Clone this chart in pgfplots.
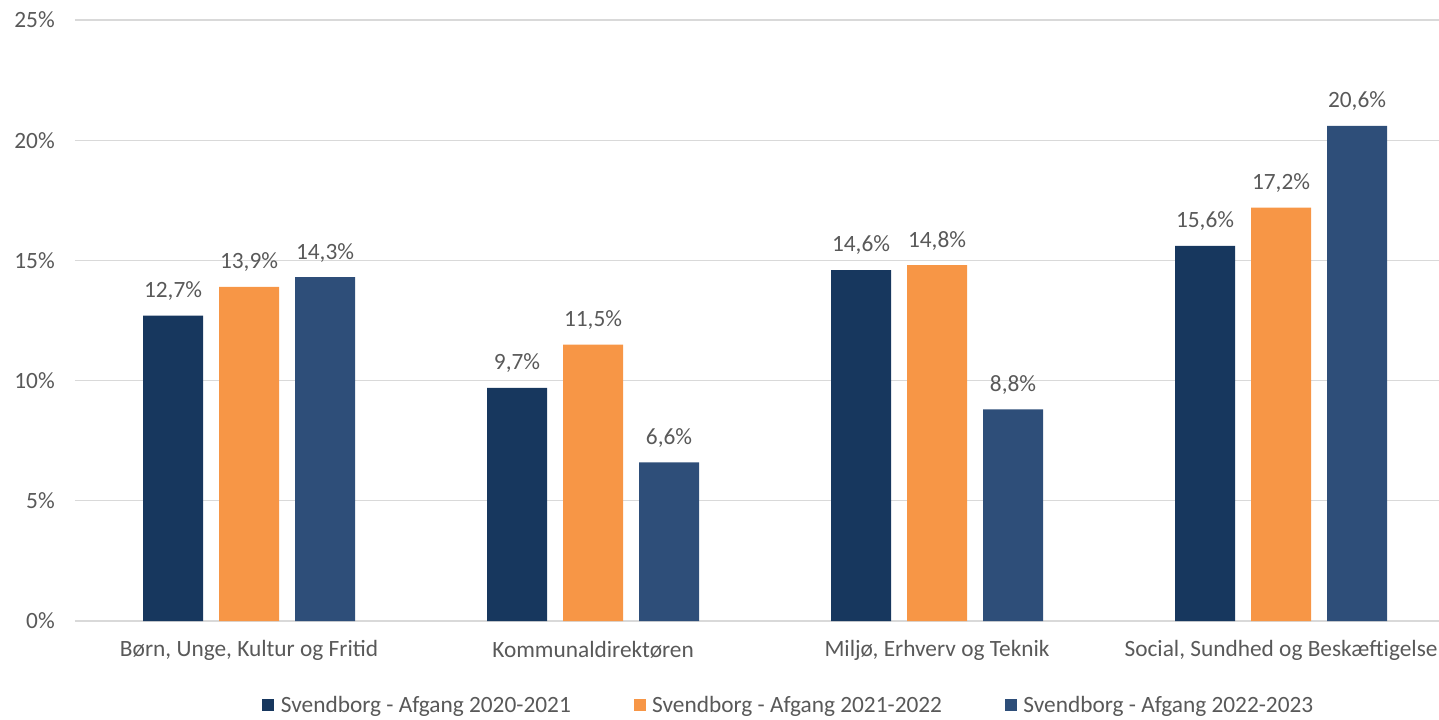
\documentclass[border=0pt]{standalone}
\usepackage{pgfplots}
\pgfplotsset{compat=1.18}
\usepackage{fontspec}
\setmainfont{Carlito}
\definecolor{c1}{HTML}{17375E}
\definecolor{c2}{HTML}{F79646}
\definecolor{c3}{HTML}{2E4E79}
\definecolor{txt}{HTML}{595959}
\definecolor{gridc}{HTML}{D9D9D9}
\begin{document}
\begin{tikzpicture}
\begin{axis}[
  at={(0pt,0pt)}, anchor=south west, scale only axis,
  width=1032pt, height=450.75pt,
  xmin=-0.506, xmax=3.494, ymin=0, ymax=25,
  ybar=12pt, bar width=45pt,
  axis line style={draw=none},
  major tick length=0pt,
  /pgf/number format/assume math mode=true,
  ytick={0,5,10,15,20,25},
  yticklabel={\pgfmathprintnumber{\tick}\%},
  ymajorgrids, grid style={gridc, line width=0.9pt},
  xtick={0,1,2,3},
  xticklabels={{Børn, Unge, Kultur og Fritid},{Kommunaldirektøren},{Miljø, Erhverv og Teknik},{Social, Sundhed og Beskæftigelse}},
  ticklabel style={font=\fontsize{17.5}{20}\selectfont, text=txt, inner sep=0pt},
  xticklabel style={anchor=center, yshift=-21.75pt},
  yticklabel style={anchor=east, xshift=-15pt},
  nodes near coords={\pgfmathprintnumber[fixed, precision=1, fixed zerofill, use comma, assume math mode=true]{\pgfplotspointmeta}\%},
  every node near coord/.append style={font=\fontsize{17.5}{20}\selectfont, text=txt, anchor=center, yshift=18.5pt, inner sep=0pt},
  legend style={at={(0.519,-0.14)}, anchor=center, draw=none, legend columns=3,
    font=\fontsize{17.5}{20}\selectfont, text=txt,
    /tikz/every odd column/.append style={column sep=3pt},
    /tikz/every even column/.append style={column sep=45pt}},
  legend image code/.code={\fill[#1] (0pt,-4.5pt) rectangle (9pt,4.5pt);},
]
\addplot[fill=c1, draw=none] coordinates {(0,12.7) (1,9.7) (2,14.6) (3,15.6)};
\addplot[fill=c2, draw=none] coordinates {(0,13.9) (1,11.5) (2,14.8) (3,17.2)};
\addplot[fill=c3, draw=none] coordinates {(0,14.3) (1,6.6) (2,8.8) (3,20.6)};
\legend{Svendborg - Afgang 2020-2021, Svendborg - Afgang 2021-2022, Svendborg - Afgang 2022-2023}
\end{axis}
\pgfresetboundingbox
\useasboundingbox (-56.25pt,-73.5pt) rectangle (1023pt,465.75pt);
\end{tikzpicture}
\end{document}
